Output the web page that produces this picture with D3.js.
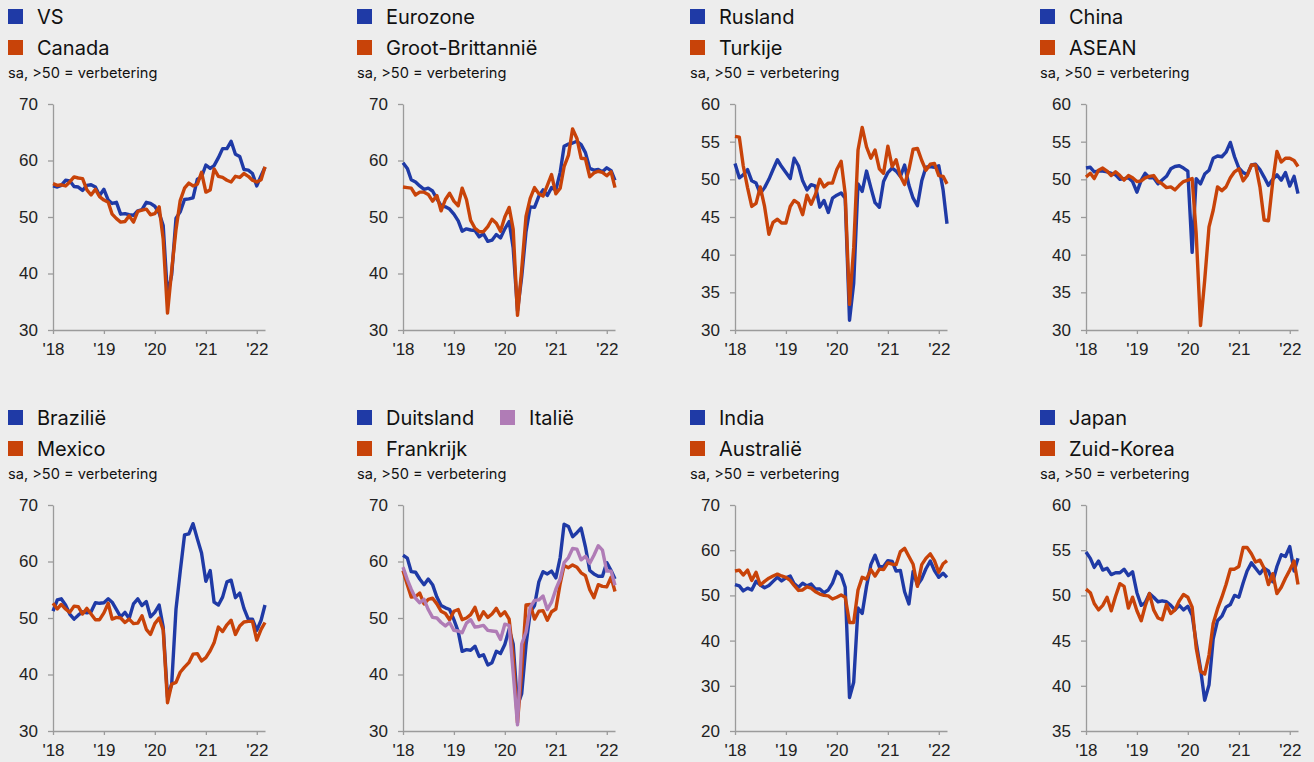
<!DOCTYPE html>
<html>
<head>
<meta charset="utf-8">
<script src="https://cdn.jsdelivr.net/npm/d3@7"></script>
<style>
  html, body { margin: 0; padding: 0; background: #ededed; }
  svg { display: block; }
  .axis path, .axis line { stroke: #9b9b9b; stroke-width: 1.3px; }
  .axis text { font-family: "Liberation Sans", Arial, sans-serif; font-size: 17px; fill: #222; }
  .legend text { font-family: Inter, Roboto, sans-serif; fill: #111; }
</style>
</head>
<body>
<script>
// months: Jan 2018 .. Mar 2022
const months = d3.timeMonth.range(new Date(2018, 0, 1), new Date(2022, 3, 1));
const yearTicks = [new Date(2018,0,1), new Date(2019,0,1), new Date(2020,0,1), new Date(2021,0,1), new Date(2022,0,1)];
const yearLabels = ["'18", "'19", "'20", "'21", "'22"];
const subtitle = 'sa, >50 = verbetering';

// PMI values
const vs = [55.5,55.3,55.6,56.5,56.4,55.4,55.3,54.7,55.6,55.7,55.3,53.8,
  54.9,53.0,52.4,52.6,50.5,50.6,50.4,50.3,51.1,51.3,52.6,52.4,
  51.9,50.7,48.5,36.1,39.8,49.8,50.9,53.1,53.2,53.4,56.7,57.1,
  59.2,58.6,59.1,60.5,62.1,62.1,63.4,61.1,60.7,58.4,58.3,57.7,
  55.5,57.3,58.8];
const canada = [55.9,55.6,55.7,55.5,56.2,57.1,56.9,56.8,54.8,53.9,54.9,53.6,
  53.0,52.6,50.5,49.7,49.1,49.2,50.2,49.1,51.0,51.2,51.4,50.4,
  50.6,51.8,46.1,33.0,40.6,47.8,52.9,55.1,56.0,55.5,55.8,57.9,
  54.4,54.8,58.5,57.2,57.0,56.5,56.2,57.2,57.0,57.7,57.2,56.5,
  56.2,56.6,58.9];
const eurozone = [59.6,58.6,56.6,56.2,55.5,54.9,55.1,54.6,53.2,52.0,51.8,51.4,
  50.5,49.3,47.5,47.9,47.7,47.6,46.5,47.0,45.7,45.9,46.9,46.3,
  47.9,49.2,44.5,33.4,39.4,47.4,51.8,51.7,53.7,54.8,53.8,55.2,
  54.8,57.9,62.5,62.9,63.1,63.4,62.8,61.4,58.6,58.3,58.4,58.0,
  58.7,58.2,56.5];
const grootBrittannie = [55.3,55.2,55.1,53.9,54.4,54.4,54.0,52.8,53.8,51.1,53.1,54.2,
  52.8,52.0,55.1,53.1,49.4,48.0,47.4,47.4,48.3,49.6,48.9,47.5,
  50.0,51.7,47.8,32.6,40.7,50.1,53.3,55.2,54.1,53.7,55.6,57.5,
  54.1,55.1,58.9,60.9,65.6,63.9,60.4,60.3,57.1,57.8,58.1,57.9,
  57.3,58.0,55.2];
const rusland = [52.1,50.2,50.6,51.3,49.8,49.5,48.1,48.9,50.0,51.3,52.6,51.7,
  50.9,50.1,52.8,51.8,49.8,48.6,49.3,49.1,46.3,47.2,45.6,47.5,
  47.9,48.2,47.5,31.3,36.2,49.4,48.4,51.1,48.9,46.9,46.3,49.7,
  50.9,51.5,51.1,50.4,51.9,49.2,47.5,46.5,49.8,51.6,51.7,51.6,
  51.8,48.6,44.1];
const turkije = [55.7,55.6,51.8,48.9,46.4,46.8,49.0,46.4,42.7,44.3,44.7,44.2,
  44.2,46.4,47.2,46.8,45.3,47.9,46.7,48.0,50.0,49.0,49.5,49.5,
  51.3,52.4,48.1,33.4,40.9,53.9,56.9,54.3,52.8,53.9,51.4,50.8,
  54.4,51.7,52.6,50.4,49.3,51.3,54.0,54.1,52.5,51.2,52.0,52.1,
  50.5,50.4,49.4];
const china = [51.5,51.6,51.0,51.1,51.1,51.0,50.8,50.6,50.0,50.1,50.2,49.7,
  48.3,49.9,50.8,50.2,50.2,49.4,49.9,50.4,51.4,51.7,51.8,51.5,
  51.1,40.3,50.1,49.4,50.7,51.2,52.8,53.1,53.0,53.6,54.9,53.0,
  51.5,50.9,50.6,51.9,52.0,51.3,50.3,49.2,50.0,50.6,49.9,50.9,
  49.1,50.4,48.1];
const asean = [50.3,50.8,50.1,51.2,51.5,51.1,50.5,51.0,50.5,49.9,50.5,50.2,
  49.7,49.8,50.2,50.4,50.5,49.7,49.4,48.9,49.0,48.6,49.2,49.7,
  49.9,50.1,42.8,30.6,36.6,43.7,45.9,49.0,48.5,49.0,50.2,51.0,
  51.4,49.8,50.5,51.9,51.9,49.0,44.6,44.5,49.7,53.7,52.3,52.8,
  52.8,52.5,51.7];
const brazilie = [51.2,53.2,53.4,52.3,50.7,49.8,50.5,51.1,50.9,51.1,52.7,52.6,
  52.7,53.4,52.8,51.5,50.2,51.0,49.9,52.5,53.4,52.2,52.9,50.2,
  51.0,52.3,48.4,36.0,38.3,51.6,58.2,64.7,64.9,66.7,64.0,61.5,
  56.5,58.4,52.8,52.3,53.7,56.4,56.7,53.6,54.4,51.7,49.8,49.8,
  47.8,49.6,52.3];
const mexico = [52.6,51.6,52.4,51.6,51.0,52.1,52.0,50.7,51.7,50.7,49.7,49.7,
  50.9,52.6,49.8,50.1,50.0,49.2,49.8,49.0,49.1,50.4,48.0,47.1,
  49.0,50.0,47.9,35.0,38.3,38.6,40.4,41.3,42.1,43.6,43.7,42.4,
  43.0,44.2,45.6,48.4,47.6,48.8,49.6,47.1,48.6,49.3,49.4,49.4,
  46.1,48.0,49.2];
const duitsland = [61.1,60.6,58.2,58.1,56.9,55.9,56.9,55.9,53.7,52.2,51.8,51.5,
  49.7,47.6,44.1,44.4,44.3,45.0,43.2,43.5,41.7,42.1,44.1,43.7,
  45.3,48.0,45.4,34.5,36.6,45.2,51.0,52.2,56.4,58.2,57.8,58.3,
  57.1,60.7,66.6,66.2,64.4,65.1,65.9,62.6,58.4,57.8,57.4,57.4,
  59.8,58.4,56.9];
const frankrijk = [58.4,55.9,53.7,53.8,54.4,52.5,53.3,53.5,52.5,51.2,50.8,49.7,
  51.2,51.5,49.7,50.0,50.6,51.9,49.7,51.1,50.1,50.7,51.7,50.4,
  51.1,49.8,43.2,31.5,40.6,52.3,52.4,49.8,51.2,51.3,49.6,51.1,
  51.6,56.1,59.3,58.9,59.4,59.0,58.0,57.5,55.0,53.6,55.9,55.6,
  55.5,57.2,54.7];
const italie = [59.0,56.8,55.1,53.5,52.7,53.3,51.5,50.1,50.0,49.2,48.6,49.2,
  47.8,47.7,47.4,49.1,49.7,48.4,48.5,48.7,47.8,47.7,47.6,46.2,
  48.9,48.7,40.3,31.1,45.4,47.5,51.9,53.1,53.2,53.9,51.5,52.8,
  55.1,56.9,59.8,60.7,62.3,62.2,60.3,60.9,59.7,61.1,62.8,62.0,
  58.3,58.3,55.8];
const india = [52.4,52.1,51.0,51.6,51.2,53.1,52.3,51.7,52.2,53.1,54.0,53.2,
  53.9,54.3,52.6,51.8,52.7,52.1,52.5,51.4,51.4,50.6,51.2,52.7,
  55.3,54.5,51.8,27.4,30.8,47.2,46.0,52.0,56.8,58.9,56.3,56.4,
  57.7,57.5,55.4,55.5,50.8,48.1,55.3,52.3,53.7,55.9,57.6,55.5,
  54.0,54.9,54.0];
const australie = [55.4,55.6,54.5,55.6,53.3,55.1,52.3,53.1,53.8,54.3,54.7,54.3,
  54.0,53.3,52.2,51.1,51.2,51.9,51.6,50.8,50.3,50.0,49.9,49.2,
  49.6,50.1,49.6,44.0,44.0,51.2,54.0,53.6,55.7,54.3,55.8,55.7,
  57.2,56.9,56.8,59.7,60.4,58.6,56.9,52.0,56.8,58.2,59.2,57.7,
  55.1,57.0,57.7];
const japan = [54.8,54.1,53.1,53.8,52.8,53.0,52.3,52.5,52.5,52.9,52.2,52.6,
  50.3,48.9,49.2,50.2,49.8,49.3,49.4,49.3,48.9,48.4,48.9,48.4,
  48.8,47.8,44.8,41.9,38.4,40.1,45.2,47.2,47.7,48.7,49.0,50.0,
  49.8,51.4,52.7,53.6,53.0,52.4,53.0,52.7,51.5,53.2,54.5,54.3,
  55.4,52.7,54.1];
const zuidKorea = [50.7,50.3,49.1,48.4,48.9,49.8,48.3,49.9,51.3,51.0,48.6,49.8,
  48.3,47.2,48.8,50.2,48.4,47.5,47.3,49.0,48.0,48.4,49.4,50.1,
  49.8,48.7,44.2,41.6,41.3,43.4,46.9,48.5,49.8,51.2,52.9,52.9,
  53.2,55.3,55.3,54.6,53.7,53.9,53.0,51.2,52.4,50.2,50.9,51.9,
  52.8,53.8,51.2];

// y-axis tick sets
const ticks30to70 = [30, 40, 50, 60, 70];
const ticks30to60 = [30, 35, 40, 45, 50, 55, 60];
const ticks20to70 = [20, 30, 40, 50, 60, 70];
const ticks35to60 = [35, 40, 45, 50, 55, 60];

const BLUE = '#1f3aa6', ORANGE = '#c84309', PURPLE = '#b07cb6';

// panel table (row-major, 4 per row)
const panels = [
  {series: [['VS', vs, BLUE], ['Canada', canada, ORANGE]], ticks: ticks30to70},
  {series: [['Eurozone', eurozone, BLUE], ['Groot-Brittannië', grootBrittannie, ORANGE]], ticks: ticks30to70},
  {series: [['Rusland', rusland, BLUE], ['Turkije', turkije, ORANGE]], ticks: ticks30to60},
  {series: [['China', china, BLUE], ['ASEAN', asean, ORANGE]], ticks: ticks30to60},
  {series: [['Brazilië', brazilie, BLUE], ['Mexico', mexico, ORANGE]], ticks: ticks30to70},
  {series: [['Duitsland', duitsland, BLUE], ['Frankrijk', frankrijk, ORANGE], ['Italië', italie, PURPLE]], ticks: ticks30to70,
   slots: [[0, 0], [0, 1], [1, 0]]},
  {series: [['India', india, BLUE], ['Australië', australie, ORANGE]], ticks: ticks20to70},
  {series: [['Japan', japan, BLUE], ['Zuid-Korea', zuidKorea, ORANGE]], ticks: ticks35to60}
];

// layout
const W = 1314, H = 762;
const legendLeft = [8, 357, 690, 1040];
const plotLeft = [53, 403, 735, 1086];
const rowTop = [104, 505];
const plotW = 212, plotH = 226;

const svg = d3.select('body').append('svg')
  .attr('width', W).attr('height', H);

svg.append('rect').attr('width', W).attr('height', H).attr('fill', '#ededed');

const x = d3.scaleTime()
  .domain([months[0], months[months.length - 1]])
  .range([0, plotW]);

panels.forEach((p, i) => {
  const col = i % 4, row = Math.floor(i / 4);
  const top = rowTop[row];

  // legend
  const lg = svg.append('g').attr('class', 'legend')
    .attr('transform', `translate(${legendLeft[col]},${top - 95})`);
  p.series.forEach((s, k) => {
    const slot = p.slots ? p.slots[k] : [0, k];
    const item = lg.append('g').attr('transform', `translate(${slot[0] * 143},${slot[1] * 31})`);
    item.append('rect').attr('width', 15).attr('height', 15).attr('fill', s[2]);
    item.append('text').attr('x', 29).attr('y', 15).attr('font-size', 20).text(s[0]);
  });
  lg.append('text').attr('y', 69).attr('font-size', 14.6).text(subtitle);

  // plot
  const g = svg.append('g').attr('transform', `translate(${plotLeft[col]},${top})`);
  const y = d3.scaleLinear()
    .domain(d3.extent(p.ticks))
    .range([plotH, 0]);

  g.append('g').attr('class', 'axis')
    .call(d3.axisLeft(y).tickValues(p.ticks).tickSize(5).tickSizeOuter(0).tickPadding(10));

  g.append('g').attr('class', 'axis')
    .attr('transform', `translate(0,${plotH})`)
    .call(d3.axisBottom(x).tickValues(yearTicks).tickSize(4).tickSizeOuter(0).tickPadding(9)
      .tickFormat((d, j) => yearLabels[j]));

  const line = d3.line()
    .x((d, j) => x(months[j]))
    .y(d => y(d));

  p.series.forEach(s => {
    g.append('path')
      .datum(s[1])
      .attr('fill', 'none')
      .attr('stroke', s[2])
      .attr('stroke-width', 3.4)
      .attr('stroke-linejoin', 'round')
      .attr('d', line);
  });
});
</script>
</body>
</html>
